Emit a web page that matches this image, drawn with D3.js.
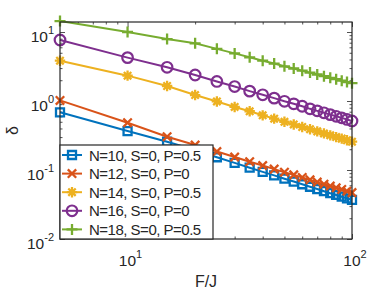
<!DOCTYPE html>
<html>
<head>
<meta charset="utf-8">
<script src="https://cdn.jsdelivr.net/npm/d3@7"></script>
<style>
  body { margin: 0; background: #fff; }
  text { font-family: "Liberation Sans", Arial, sans-serif; fill: #262626; }
</style>
</head>
<body>
<div id="chart"></div>
<script>
// Data
const fj = [5, 10, 15, 20, 25, 30, 35, 40, 45, 50, 55, 60, 65, 70, 75, 80, 85, 90, 95, 100];
const n10 = [0.686, 0.367, 0.257, 0.195, 0.153, 0.127, 0.108, 0.094, 0.0835, 0.0748, 0.068, 0.0622, 0.0572, 0.053, 0.0493, 0.0461, 0.0435, 0.041, 0.0388, 0.037];
const n12 = [1.02, 0.485, 0.304, 0.23, 0.185, 0.154, 0.132, 0.116, 0.103, 0.093, 0.085, 0.078, 0.072, 0.0667, 0.0623, 0.0585, 0.0552, 0.0522, 0.0493, 0.047];
const n14 = [3.84, 2.33, 1.65, 1.22, 0.985, 0.82, 0.71, 0.62, 0.555, 0.50, 0.457, 0.42, 0.39, 0.363, 0.339, 0.318, 0.30, 0.285, 0.27, 0.257];
const n16 = [7.66, 4.25, 3.08, 2.38, 1.92, 1.62, 1.39, 1.23, 1.10, 0.99, 0.91, 0.84, 0.77, 0.72, 0.675, 0.635, 0.60, 0.57, 0.54, 0.513];
const n18 = [14.4, 10.0, 7.9, 6.86, 5.7, 4.9, 4.3, 3.84, 3.49, 3.18, 2.96, 2.75, 2.58, 2.42, 2.29, 2.17, 2.07, 1.97, 1.88, 1.81];
const seriesNames = ["N=10, S=0, P=0.5", "N=12, S=0, P=0", "N=14, S=0, P=0.5", "N=16, S=0, P=0", "N=18, S=0, P=0.5"];
const xTickExp = [1, 2];
const yTickExp = [-2, -1, 0, 1];

const width = 389;
const height = 292;
const margin = {top: 22, right: 37, bottom: 53, left: 60};
const colors = ["#0072BD", "#D95319", "#EDB120", "#7E2F8E", "#77AC30"];
const markers = ["square", "x", "asterisk", "circle", "plus"];

const series = [n10, n12, n14, n16, n18].map((vals, i) => ({
  name: seriesNames[i],
  color: colors[i],
  marker: markers[i],
  points: fj.map((f, j) => [f, vals[j]])
}));

const svg = d3.select("#chart")
  .append("svg")
  .attr("width", width)
  .attr("height", height);

const x = d3.scaleLog().domain([5, 100]).range([margin.left, width - margin.right]);
const y = d3.scaleLog().domain([0.01, Math.pow(10, 1.145)]).range([height - margin.bottom, margin.top]);

// marker shapes, relative to the point
function markerPath(type) {
  switch (type) {
    case "square": return "M-4,-4H4V4H-4Z";
    case "x": return "M-4.2,-4.2L4.2,4.2M-4.2,4.2L4.2,-4.2";
    case "asterisk": return "M0,-5.2V5.2M-5.2,0H5.2M-3.7,-3.7L3.7,3.7M-3.7,3.7L3.7,-3.7";
    case "plus": return "M0,-5.5V5.5M-5.5,0H5.5";
    default: return null;
  }
}
function drawMarker(g, type, color) {
  if (type === "circle") {
    g.append("circle").attr("r", 5.3).attr("fill", "none")
      .attr("stroke", color).attr("stroke-width", 2.2);
  } else {
    g.append("path").attr("d", markerPath(type)).attr("fill", "none")
      .attr("stroke", color).attr("stroke-width", 2.3);
  }
}

// Ticks (inside, on all four sides)
const xMajor = xTickExp.map(e => Math.pow(10, e));
const xMinor = [6, 7, 8, 9, 20, 30, 40, 50, 60, 70, 80, 90];
const yMajor = yTickExp.map(e => Math.pow(10, e));
const yMinor = [];
[-2, -1, 0, 1].forEach(e => d3.range(2, 10).forEach(k => {
  const v = k * Math.pow(10, e);
  if (v <= y.domain()[1]) yMinor.push(v);
}));

function tickAxis(axisFn, scale, vals, size, transform) {
  svg.append("g")
    .attr("transform", transform)
    .call(axisFn(scale).tickValues(vals).tickSize(size).tickFormat(""))
    .call(g => g.select(".domain").remove())
    .call(g => g.selectAll(".tick line").attr("stroke", "#262626").attr("stroke-width", 0.8));
}
const bottomY = height - margin.bottom, rightX = width - margin.right;
tickAxis(d3.axisBottom, x, xMajor, -5, `translate(0,${bottomY})`);
tickAxis(d3.axisBottom, x, xMinor, -2.5, `translate(0,${bottomY})`);
tickAxis(d3.axisTop, x, xMajor, -5, `translate(0,${margin.top})`);
tickAxis(d3.axisTop, x, xMinor, -2.5, `translate(0,${margin.top})`);
tickAxis(d3.axisLeft, y, yMajor, -5, `translate(${margin.left},0)`);
tickAxis(d3.axisLeft, y, yMinor, -2.5, `translate(${margin.left},0)`);
tickAxis(d3.axisRight, y, yMajor, -5, `translate(${rightX},0)`);
tickAxis(d3.axisRight, y, yMinor, -2.5, `translate(${rightX},0)`);

// Tick labels with superscripts
const xl = svg.append("g").selectAll("text")
  .data(xTickExp)
  .enter()
  .append("text")
  .attr("x", d => x(Math.pow(10, d)) + 3)
  .attr("y", bottomY + 27)
  .attr("text-anchor", "middle")
  .style("font-size", "15.5px");
xl.append("tspan").text("10");
xl.append("tspan").attr("dy", -8).style("font-size", "11px").text(d => d);

const yl = svg.append("g").selectAll("text")
  .data(yTickExp)
  .enter()
  .append("text")
  .attr("x", margin.left - 6)
  .attr("y", d => y(Math.pow(10, d)) + 10)
  .attr("text-anchor", "end")
  .style("font-size", "15.5px");
yl.append("tspan").text("10");
yl.append("tspan").attr("dy", -8).style("font-size", "11px").text(d => d);

// Axis labels
svg.append("text")
  .attr("x", (margin.left + rightX) / 2)
  .attr("y", height - 5)
  .attr("text-anchor", "middle")
  .style("font-size", "16px")
  .text("F/J");
svg.append("text")
  .attr("transform", `translate(18,${(margin.top + bottomY) / 2}) rotate(-90)`)
  .attr("text-anchor", "middle")
  .style("font-size", "16px")
  .text("δ");

// Lines and markers
const line = d3.line().x(d => x(d[0])).y(d => y(d[1]));
const plot = svg.append("g");
series.forEach(s => {
  plot.append("path")
    .datum(s.points)
    .attr("fill", "none")
    .attr("stroke", s.color)
    .attr("stroke-width", 2)
    .attr("d", line);
  plot.selectAll(null)
    .data(s.points)
    .enter()
    .append("g")
    .attr("transform", d => `translate(${x(d[0])},${y(d[1])})`)
    .each(function() { drawMarker(d3.select(this), s.marker, s.color); });
});

// Box
svg.append("rect")
  .attr("x", margin.left)
  .attr("y", margin.top)
  .attr("width", rightX - margin.left)
  .attr("height", bottomY - margin.top)
  .attr("fill", "none")
  .attr("stroke", "#262626")
  .attr("stroke-width", 1.2);

// Legend (south-west, inside)
const legendTop = 145, rowH = 18.6;
const legend = svg.append("g");
legend.append("rect")
  .attr("x", margin.left)
  .attr("y", legendTop)
  .attr("width", 153)
  .attr("height", bottomY - legendTop)
  .attr("fill", "#fff")
  .attr("stroke", "#262626")
  .attr("stroke-width", 1.2);
const row = legend.selectAll("g.row")
  .data(series)
  .enter()
  .append("g")
  .attr("transform", (d, i) => `translate(${margin.left},${legendTop + 10 + i * rowH})`);
row.append("line")
  .attr("x1", 2).attr("x2", 22)
  .attr("stroke", d => d.color)
  .attr("stroke-width", 2);
row.append("g")
  .attr("transform", "translate(12,0)")
  .each(function(d) { drawMarker(d3.select(this), d.marker, d.color); });
row.append("text")
  .attr("x", 29)
  .attr("y", 5.5)
  .style("font-size", "15px")
  .style("letter-spacing", "-0.5px")
  .text(d => d.name);
</script>
</body>
</html>
